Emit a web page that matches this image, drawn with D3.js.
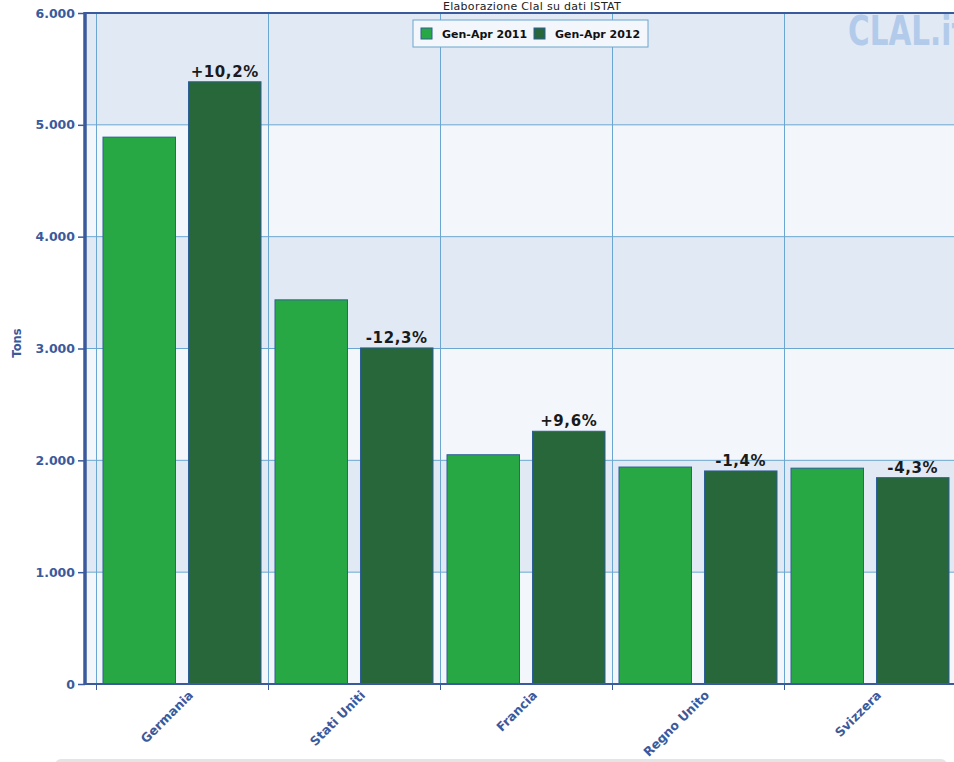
<!DOCTYPE html>
<html>
<head>
<meta charset="utf-8">
<script src="https://cdn.jsdelivr.net/npm/d3@7"></script>
<style>
  body { margin: 0; background: #fff; }
  svg { display: block; font-family: "DejaVu Sans", sans-serif; }
</style>
</head>
<body>
<div id="chart"></div>
<script>
// data (tons)
var countries = ["Germania", "Stati Uniti", "Francia", "Regno Unito", "Svizzera"];
var seriesNames = ["Gen-Apr 2011", "Gen-Apr 2012"];
var values2011 = [4890, 3435, 2050, 1940, 1930];
var values2012 = [5385, 3005, 2260, 1905, 1845];
var changeLabels = ["+10,2%", "-12,3%", "+9,6%", "-1,4%", "-4,3%"];
var yTicks = [0, 1000, 2000, 3000, 4000, 5000, 6000];

var seriesColors = ["#28a845", "#27673a"];
var axisBlue = "#3a5a9c";
var gridBlue = "#6aa6cf";

var width = 954, height = 762;
var svg = d3.select("#chart").append("svg")
    .attr("width", width)
    .attr("height", height);

var plotLeft = 85, plotTop = 13, plotBottom = 684;

var y = d3.scaleLinear().domain([0, 6000]).range([plotBottom, plotTop]);
var x0 = d3.scaleBand().domain(countries).range([96, 956]).padding(0);
var x1 = d3.scaleBand().domain(seriesNames).range([7, x0.bandwidth() - 7]).paddingInner(0.152);

var it = d3.formatLocale({ decimal: ",", thousands: ".", grouping: [3], currency: ["", "€"] });
var fmt = it.format(",");

// alternating background bands
svg.selectAll("rect.band")
    .data(yTicks.slice(0, -1))
    .enter().append("rect")
    .attr("x", plotLeft)
    .attr("width", width - plotLeft)
    .attr("y", function(d) { return y(d + 1000); })
    .attr("height", function(d) { return y(d) - y(d + 1000); })
    .attr("fill", function(d, i) { return i % 2 === 0 ? "#f3f7fb" : "#e1e9f5"; });

// watermark (runs past the right edge, as in the original)
svg.append("text")
    .attr("transform", "translate(848,45) scale(0.72,1)")
    .attr("fill", "#b3cbea")
    .style("font-size", "41px")
    .style("font-weight", "bold")
    .text("CLAL.it");

// horizontal grid
svg.selectAll("line.hgrid")
    .data(yTicks.slice(1, -1))
    .enter().append("line")
    .attr("x1", plotLeft).attr("x2", width)
    .attr("y1", function(d) { return y(d); })
    .attr("y2", function(d) { return y(d); })
    .attr("stroke", gridBlue)
    .attr("stroke-width", 1);

// vertical grid at category boundaries
svg.selectAll("line.vgrid")
    .data(countries)
    .enter().append("line")
    .attr("x1", function(d) { return x0(d) + 0.5; })
    .attr("x2", function(d) { return x0(d) + 0.5; })
    .attr("y1", plotTop).attr("y2", plotBottom)
    .attr("stroke", gridBlue)
    .attr("stroke-width", 1);

// bars
var groups = svg.selectAll("g.country")
    .data(countries)
    .enter().append("g")
    .attr("transform", function(d) { return "translate(" + x0(d) + ",0)"; });

groups.selectAll("rect")
    .data(function(d, i) { return [values2011[i], values2012[i]].map(function(v, j) { return { s: seriesNames[j], v: v, j: j }; }); })
    .enter().append("rect")
    .attr("x", function(d) { return x1(d.s); })
    .attr("width", x1.bandwidth())
    .attr("y", function(d) { return y(d.v); })
    .attr("height", function(d) { return y(0) - y(d.v); })
    .attr("fill", function(d) { return seriesColors[d.j]; })
    .attr("stroke", "#2b5f96")
    .attr("stroke-width", 1);

// change labels above the 2012 bar
groups.append("text")
    .attr("x", x1(seriesNames[1]) + x1.bandwidth() / 2)
    .attr("y", function(d, i) { return y(values2012[i]) - 5; })
    .attr("text-anchor", "middle")
    .style("font-size", "15px")
    .style("font-weight", "bold")
    .attr("letter-spacing", "0.6")
    .attr("fill", "#1a1a1a")
    .text(function(d, i) { return changeLabels[i]; });

// top border
svg.append("line")
    .attr("x1", plotLeft).attr("x2", width)
    .attr("y1", plotTop).attr("y2", plotTop)
    .attr("stroke", axisBlue).attr("stroke-width", 2);

// y axis
var yAxis = d3.axisLeft(y).tickValues(yTicks).tickFormat(fmt).tickSize(7).tickPadding(3);
var gy = svg.append("g")
    .attr("transform", "translate(" + plotLeft + ",0)")
    .call(yAxis);
gy.select(".domain").remove();
gy.selectAll(".tick line").attr("stroke", axisBlue).attr("stroke-width", 1.5);
gy.selectAll(".tick text")
    .attr("fill", axisBlue)
    .style("font-size", "12.5px")
    .style("font-weight", "bold")
    .style("font-family", "'DejaVu Sans', sans-serif");
svg.append("line")
    .attr("x1", plotLeft).attr("x2", plotLeft)
    .attr("y1", plotTop - 1).attr("y2", plotBottom + 1)
    .attr("stroke", axisBlue).attr("stroke-width", 3.5);

// x axis
svg.append("line")
    .attr("x1", plotLeft).attr("x2", width)
    .attr("y1", plotBottom).attr("y2", plotBottom)
    .attr("stroke", axisBlue).attr("stroke-width", 2);
svg.selectAll("line.xtick")
    .data(countries)
    .enter().append("line")
    .attr("x1", function(d) { return x0(d) + 0.5; })
    .attr("x2", function(d) { return x0(d) + 0.5; })
    .attr("y1", plotBottom).attr("y2", plotBottom + 6)
    .attr("stroke", axisBlue).attr("stroke-width", 1);
svg.selectAll("text.xlabel")
    .data(countries)
    .enter().append("text")
    .attr("transform", function(d) {
        return "translate(" + (x0(d) + x0.bandwidth() / 2 + 12) + "," + (plotBottom + 12) + ") rotate(-45)";
    })
    .attr("text-anchor", "end")
    .attr("fill", axisBlue)
    .style("font-size", "12.5px")
    .style("font-weight", "bold")
    .text(function(d) { return d; });

// y title
svg.append("text")
    .attr("transform", "translate(21,343) rotate(-90)")
    .attr("text-anchor", "middle")
    .attr("fill", axisBlue)
    .style("font-size", "11.5px")
    .style("font-weight", "bold")
    .text("Tons");

// caption
svg.append("text")
    .attr("x", 532).attr("y", 10)
    .attr("text-anchor", "middle")
    .attr("fill", "#222")
    .style("font-size", "11px")
    .attr("letter-spacing", "0.3")
    .text("Elaborazione Clal su dati ISTAT");

// legend
var legend = svg.append("g").attr("transform", "translate(413,20)");
legend.append("rect")
    .attr("width", 235).attr("height", 27)
    .attr("fill", "#f3f7fb")
    .attr("stroke", gridBlue);
var items = legend.selectAll("g.item")
    .data(seriesNames)
    .enter().append("g")
    .attr("transform", function(d, i) { return "translate(" + (8 + i * 113) + ",8)"; });
items.append("rect")
    .attr("width", 11).attr("height", 11)
    .attr("fill", function(d, i) { return seriesColors[i]; })
    .attr("stroke", "#2b5f96");
items.append("text")
    .attr("x", 21).attr("y", 10)
    .attr("fill", "#111")
    .style("font-size", "11px")
    .style("font-weight", "bold")
    .text(function(d) { return d; });

// bottom panel edge
svg.append("rect")
    .attr("x", 55).attr("y", 759)
    .attr("width", 892).attr("height", 12)
    .attr("rx", 6)
    .attr("fill", "#e4e4e4");
</script>
</body>
</html>
